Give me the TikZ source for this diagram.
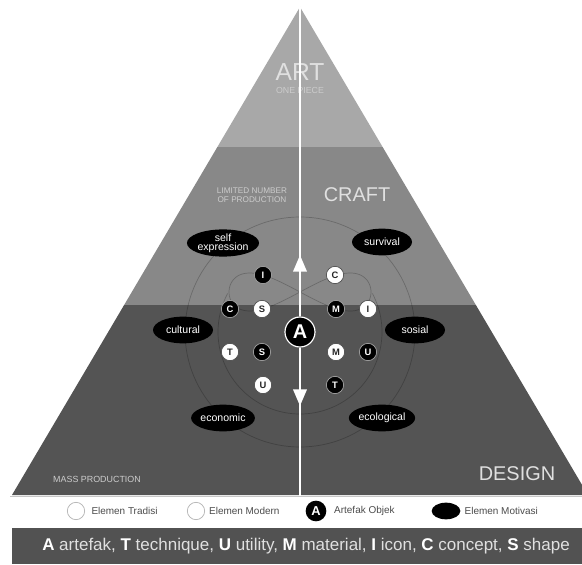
\documentclass[tikz,border=0pt]{standalone}
\usepackage{fontspec}
\setmainfont{Liberation Sans}
\usetikzlibrary{shapes.geometric, arrows.meta, positioning}
\definecolor{artgray}{RGB}{168,168,168}
\definecolor{craftgray}{RGB}{136,136,136}
\definecolor{designgray}{RGB}{84,84,84}
\definecolor{keygray}{RGB}{82,82,82}

\begin{document}
\begin{tikzpicture}[x=0.03cm, y=-0.03cm,
    motive/.style={ellipse, fill=black, minimum width=1.8cm, minimum height=0.8cm, inner sep=0pt, text=white, font=\fontsize{9}{9}\selectfont, align=center},
    dark elem/.style={circle, fill=black, draw=gray!70, line width=0.6pt, minimum size=0.52cm, inner sep=0pt, text=white, font=\bfseries\fontsize{8}{8}\selectfont},
    light elem/.style={dark elem, fill=white, draw=black!70, text=black!85},
    artefak/.style={circle, fill=black, draw=white, line width=1pt, minimum size=0.9cm, inner sep=0pt, text=white, font=\bfseries\fontsize{17}{17}\selectfont},
    level label/.style={text=white!88!black, font=\fontsize{17}{17}\selectfont},
    small label/.style={text=white!80!black, font=\fontsize{7}{7.5}\selectfont, align=center},
    axis/.style={white, line width=2.2pt},
    orbit/.style={draw=black, opacity=0.22, line width=0.6pt},
    legend circ/.style={circle, fill=white, draw=gray!60, line width=0.6pt, minimum size=0.52cm, inner sep=0pt},
    legend label/.style={text=black!70, font=\fontsize{8.5}{9}\selectfont}]

\useasboundingbox[fill=white] (0,0) rectangle (582,565);

% Pyramid bands
\coordinate (apex) at (300,7);
\coordinate (bl) at (12,495);
\coordinate (br) at (588,495);
\begin{scope}
    \clip (apex) -- (bl) -- (br) -- cycle;
    \fill[artgray] (0,0) rectangle (600,147);
    \fill[craftgray] (0,147) rectangle (600,305);
    \fill[designgray] (0,305) rectangle (600,496);
\end{scope}
\draw[gray!45, line width=1.3pt] (10,496.5) -- (582,496.5);

% Level texts
\node[level label, font=\fontsize{21}{21}\selectfont] (art) at (300,72) {ART};
\node[small label, font=\fontsize{7.5}{8}\selectfont, below=-1pt of art] {ONE PIECE};
\node[level label] (craft) at (357,195) {CRAFT};
\node[small label] (limited) at (252,195) {LIMITED NUMBER\\OF PRODUCTION};
\node[small label, font=\fontsize{7.6}{8}\selectfont] (mass) at (97,479) {MASS PRODUCTION};
\node[level label] (design) at (517,474) {DESIGN};

% Artefak
\node[artefak] (A) at (300,332) {A};

% Orbits
\draw[orbit] (A.center) circle[radius=115];
\draw[orbit] ([shift={(-28:82)}]A.center) arc[start angle=-28, end angle=208, radius=82];
\draw[orbit] plot[domain=0:360, samples=120, smooth] ({300+71*cos(\x)}, {292+38*sin(\x)*cos(\x)});

% Axis through the pyramid
\coordinate (up tip) at (300,255);
\coordinate (down tip) at (300,406);
\coordinate (base) at (300,496);
\draw[axis] (A.north) -- (apex);
\draw[axis] (A.south) -- (base);
\draw[axis, -{Triangle[length=0.5cm, width=0.4cm]}] (A.north) -- (up tip);
\draw[axis, -{Triangle[length=0.5cm, width=0.4cm]}] (A.south) -- (down tip);

% Motivation elements
\node[motive] (self) at (223,243) {self\\[-1pt]expression};
\node[motive] (survival) at (382,242) {survival};
\node[motive] (cultural) at (183,330) {cultural};
\node[motive] (sosial) at (415,330) {sosial};
\node[motive] (economic) at (223,418) {economic};
\node[motive] (ecological) at (382,418) {ecological};

% Object elements
\node[dark elem] (i1) at (263,275) {I};
\node[light elem] (c1) at (335,275) {C};
\node[dark elem] (c2) at (230,309) {C};
\node[light elem] (s1) at (262,309) {S};
\node[dark elem] (m1) at (336,309) {M};
\node[light elem] (i2) at (368,309) {I};
\node[light elem] (t1) at (230,352) {T};
\node[dark elem] (s2) at (262,352) {S};
\node[light elem] (m2) at (336,352) {M};
\node[dark elem] (u1) at (368,352) {U};
\node[light elem] (u2) at (263,385) {U};
\node[dark elem] (t2) at (335,385) {T};

% Legend
\node[legend circ] (ltrad) at (76,511) {};
\node[legend label, right=2pt of ltrad] {Elemen Tradisi};
\node[legend circ] (lmod) at (196,511) {};
\node[legend label, right=0pt of lmod] {Elemen Modern};
\node[circle, fill=black, minimum size=0.62cm, inner sep=0pt, text=white, font=\bfseries\fontsize{11}{11}\selectfont] (lart) at (316,511) {A};
\node[legend label, right=3pt of lart] {Artefak Objek};
\node[ellipse, fill=black, minimum width=0.86cm, minimum height=0.5cm, inner sep=0pt] (lmot) at (446,511) {};
\node[legend label, right=0pt of lmot] {Elemen Motivasi};

% Key
\fill[keygray] (12,528) rectangle (582,564);
\node[text=white!88!black, font=\fontsize{14.5}{14.5}\selectfont] (key) at (306,546)
    {\textbf{\color{white}A} artefak, \textbf{\color{white}T} technique, \textbf{\color{white}U} utility, \textbf{\color{white}M} material, \textbf{\color{white}I} icon, \textbf{\color{white}C} concept, \textbf{\color{white}S} shape};

\end{tikzpicture}
\end{document}
